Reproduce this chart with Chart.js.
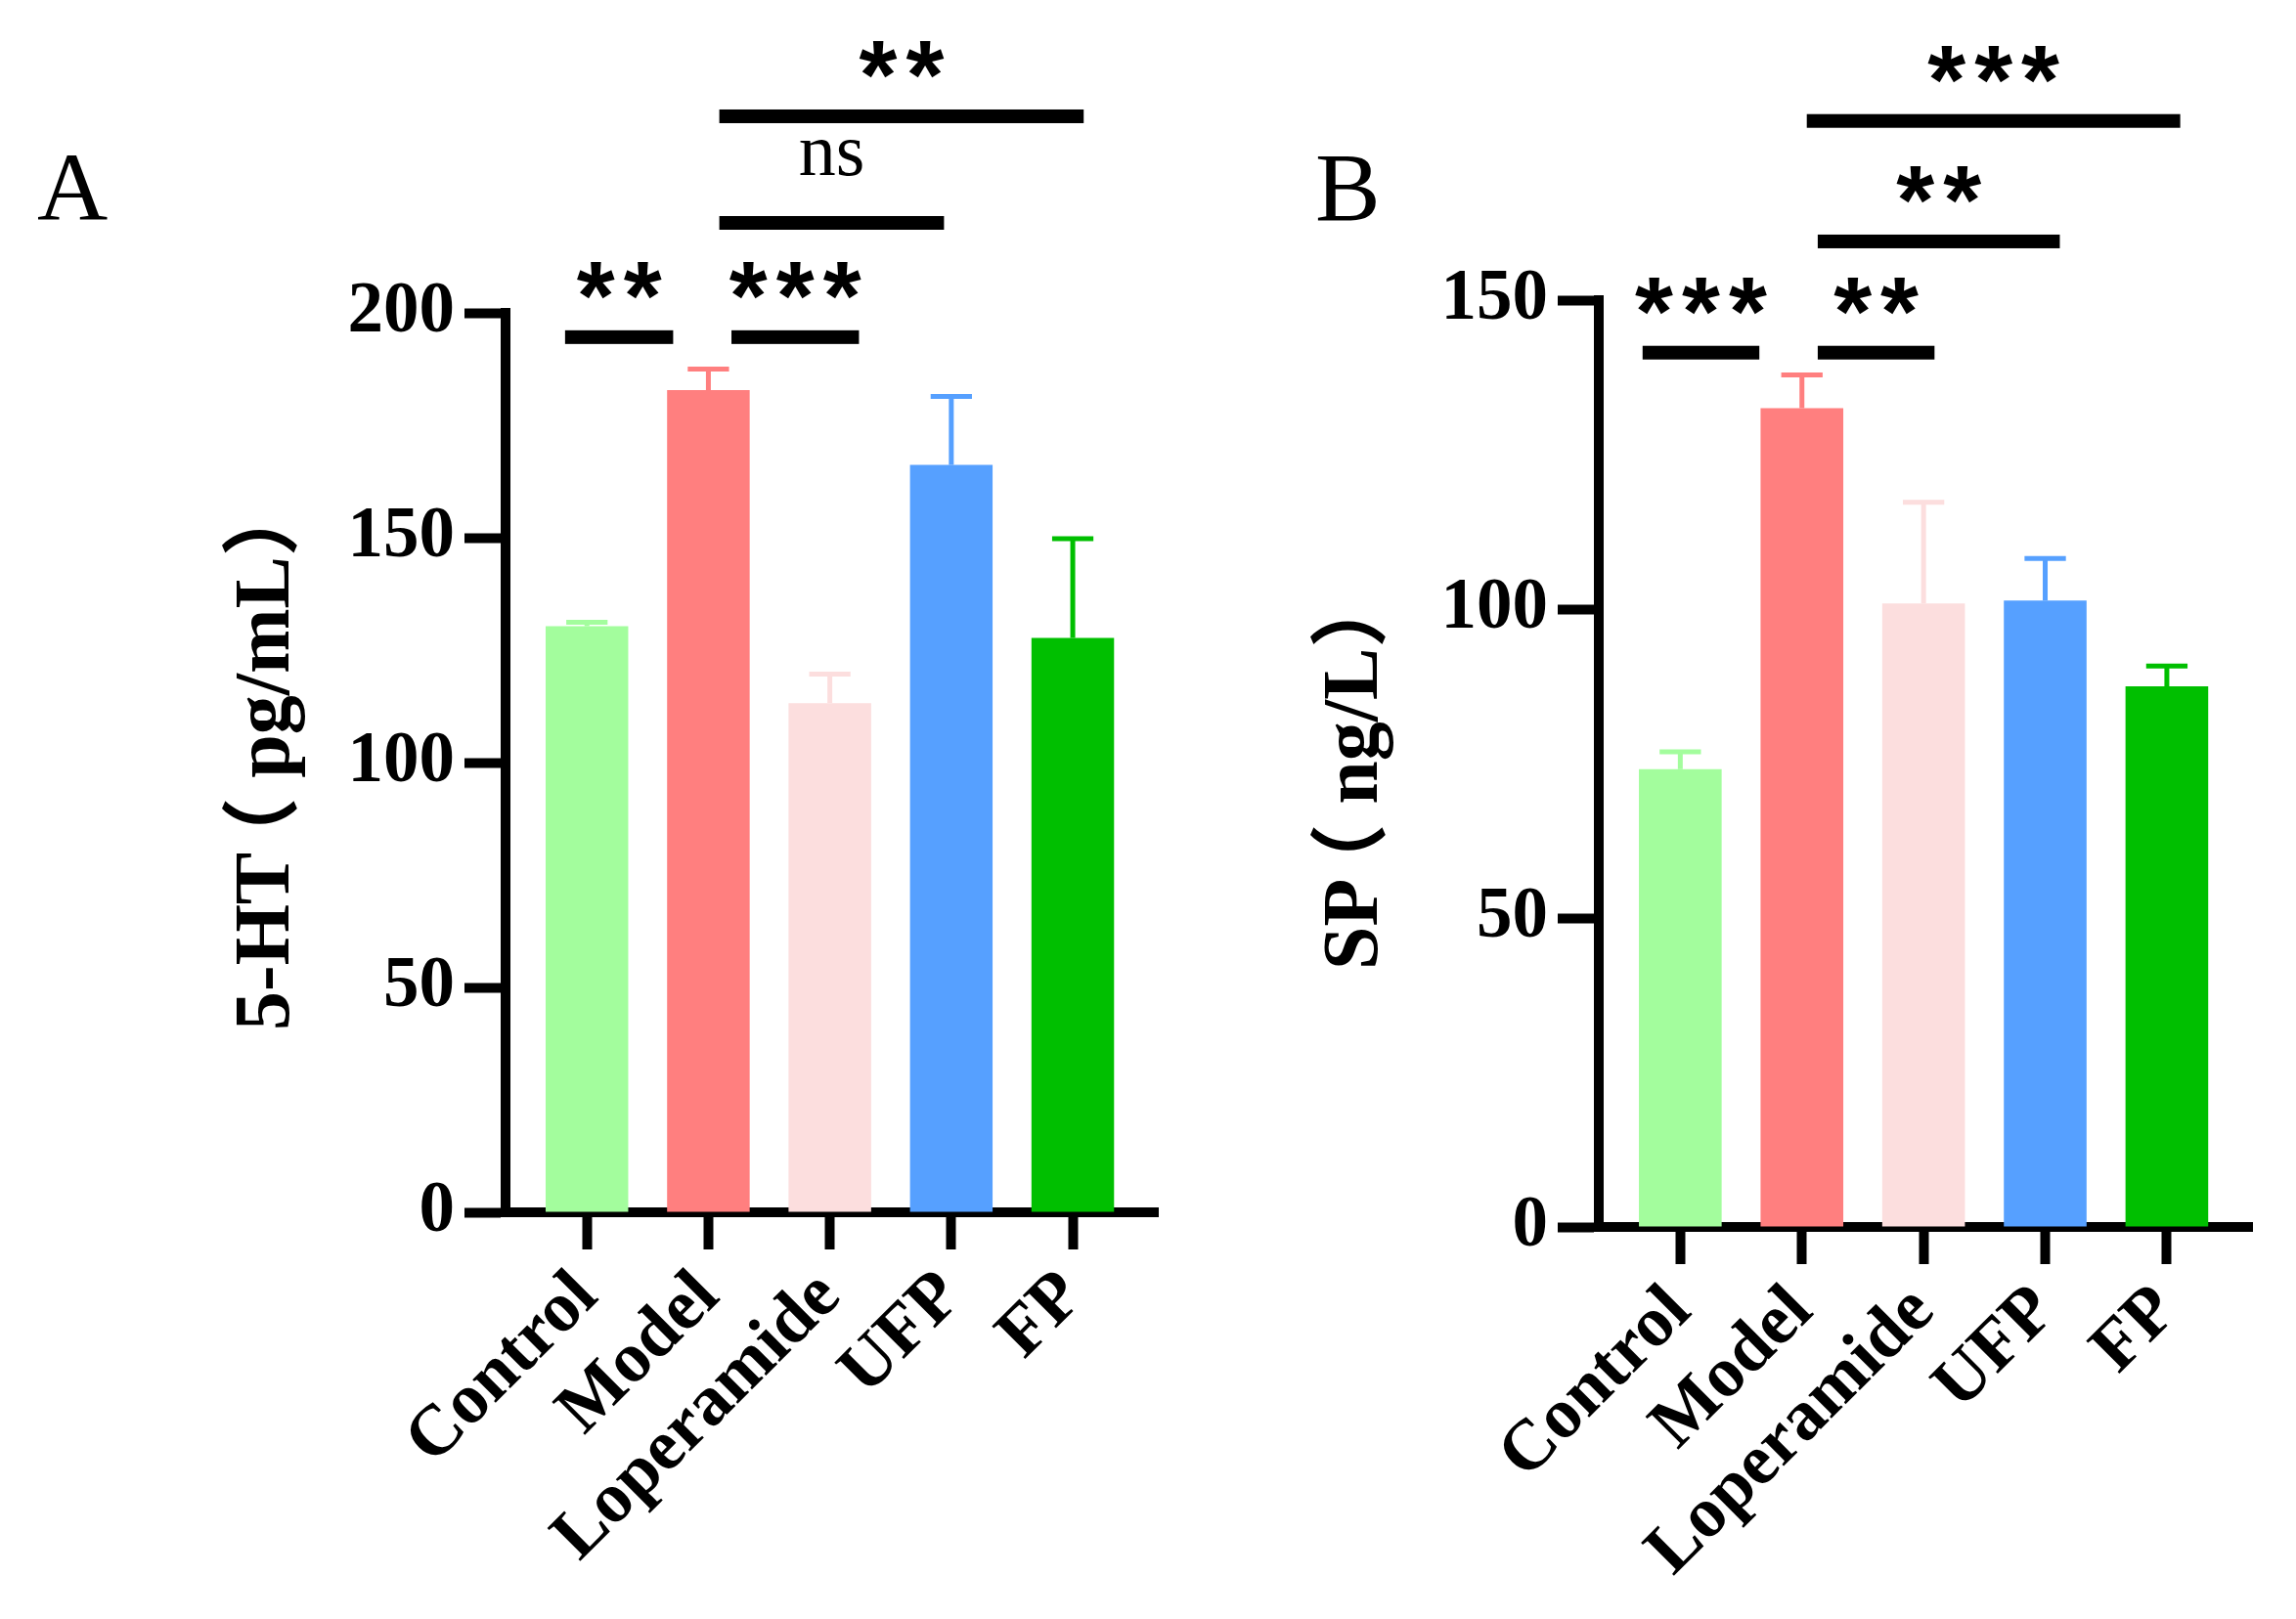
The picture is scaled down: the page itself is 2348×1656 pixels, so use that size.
<!DOCTYPE html>
<html>
<head>
<meta charset="utf-8">
<script src="https://cdn.jsdelivr.net/npm/chart.js@4.4.1/dist/chart.umd.min.js"></script>
<style>
  html, body { margin: 0; padding: 0; background: #fff; }
  #wrap { position: relative; width: 2348px; height: 1656px; }
  canvas { position: absolute; top: 0; }
  #chartA { left: 0; }
  #chartB { left: 1200px; }
</style>
</head>
<body>
<div id="wrap">
  <canvas id="chartA" width="1200" height="1656"></canvas>
  <canvas id="chartB" width="1148" height="1656"></canvas>
</div>
<script>
// ── données ─────────────────────────────────────────────
const groups = ['Control', 'Model', 'Loperamide', 'UFP', 'FP'];
const barColors = ['#a3fd9d', '#ff7f7f', '#fcdede', '#56a0ff', '#00bf00'];

// 5-HT (pg/mL) : moyenne + erreur (barre supérieure)
const htMeans  = [130.3, 182.8, 113.2, 166.2, 127.7];
const htErrors = [0.9, 4.7, 6.5, 15.2, 22.1];
const htTicks  = [0, 50, 100, 150, 200];

// SP (ng/L)
const spMeans  = [74.1, 132.5, 100.9, 101.4, 87.5];
const spErrors = [2.8, 5.4, 16.4, 6.8, 3.3];
const spTicks  = [0, 50, 100, 150];

// comparaisons : [label, groupe début, groupe fin, niveau]
const htSig = [
  ['**',  -0.18, 0.71, 194.6],
  ['***',  1.19, 2.24, 194.6],
  ['ns',   1.09, 2.94, 220.0],
  ['**',   1.09, 4.09, 243.7],
];
const spSig = [
  ['***', -0.31, 0.65, 141.5],
  ['**',   1.13, 2.09, 141.5],
  ['**',   1.13, 3.12, 159.5],
  ['***',  1.04, 4.11, 179.0],
];

Chart.defaults.color = '#000';
const SERIF = "'Liberation Serif', 'Times New Roman', 'Noto Sans CJK SC', serif";

// ── plugins ─────────────────────────────────────────────
const errorBars = {
  id: 'errorBars',
  afterDatasetsDraw(chart, args, opts) {
    const { ctx, scales: { y } } = chart;
    const meta = chart.getDatasetMeta(0);
    meta.data.forEach((bar, i) => {
      const base = y.getPixelForValue(opts.means[i]);
      const top = y.getPixelForValue(opts.means[i] + opts.errors[i]);
      const half = bar.width * 0.25;
      ctx.save();
      ctx.strokeStyle = barColors[i];
      ctx.lineWidth = 5;
      ctx.beginPath();
      ctx.moveTo(bar.x, base);
      ctx.lineTo(bar.x, top);
      ctx.moveTo(bar.x - half, top);
      ctx.lineTo(bar.x + half, top);
      ctx.stroke();
      ctx.restore();
    });
  }
};

const sigBars = {
  id: 'sigBars',
  afterDraw(chart, args, opts) {
    const { ctx, scales: { x, y } } = chart;
    opts.items.forEach(([label, from, to, level]) => {
      const x1 = x.getPixelForValue(from);
      const x2 = x.getPixelForValue(to);
      const py = y.getPixelForValue(level);
      const cx = (x1 + x2) / 2;
      ctx.save();
      ctx.fillStyle = '#000';
      ctx.fillRect(x1, py - 7, x2 - x1, 14);
      ctx.textAlign = 'center';
      if (label === 'ns') {
        ctx.font = '76px ' + SERIF;
        ctx.textBaseline = 'alphabetic';
        ctx.fillText(label, cx, py - 49);
      } else {
        ctx.font = "bold 100px 'Liberation Sans', Arial, sans-serif";
        ctx.letterSpacing = '9px';
        const m = ctx.measureText('*');
        const mid = (m.actualBoundingBoxAscent - m.actualBoundingBoxDescent) / 2;
        ctx.textBaseline = 'alphabetic';
        ctx.fillText(label, cx + 4.5, py - 58 + mid);
      }
      ctx.restore();
    });
  }
};

// lettre du panneau + titre vertical de l'axe y
const panelText = {
  id: 'panelText',
  afterDraw(chart, args, opts) {
    const { ctx } = chart;
    ctx.save();
    ctx.fillStyle = '#000';
    ctx.font = '100px ' + SERIF;
    ctx.textAlign = 'left';
    ctx.textBaseline = 'alphabetic';
    ctx.fillText(opts.letter, opts.letterX, 225);

    ctx.translate(opts.titleX, opts.titleY);
    ctx.rotate(-Math.PI / 2);
    ctx.font = 'bold 80px ' + SERIF;
    ctx.textBaseline = 'middle';
    // la parenthèse pleine chasse est rapprochée du texte qui la précède
    const cut = opts.title.indexOf('（');
    const head = opts.title.slice(0, cut);
    ctx.fillText(head, 0, 0);
    ctx.fillText(opts.title.slice(cut), ctx.measureText(head).width - 24, 0);
    ctx.restore();
  }
};

// ── construction ────────────────────────────────────────
function buildPanel(id, p) {
  new Chart(document.getElementById(id), {
    type: 'bar',
    data: {
      datasets: [{
        data: p.means.map((v, i) => ({ x: i, y: v })),
        backgroundColor: barColors,
        borderWidth: 0,
        categoryPercentage: 1,
        barPercentage: 0.68,
      }],
    },
    options: {
      responsive: false,
      animation: false,
      devicePixelRatio: 1,
      layout: { padding: { top: p.top, left: 0, right: p.right, bottom: 0 } },
      plugins: {
        legend: { display: false },
        tooltip: { enabled: false },
        errorBars: { means: p.means, errors: p.errors },
        sigBars: { items: p.sig },
        panelText: {
          letter: p.letter, letterX: p.letterX,
          title: p.title, titleX: p.titleX, titleY: p.titleY,
        },
      },
      scales: {
        x: {
          type: 'linear',
          min: -0.67,
          max: 4.7,
          offset: false,
          afterBuildTicks: axis => { axis.ticks = groups.map((g, i) => ({ value: i })); },
          afterFit: scale => { scale.height = p.xHeight; },
          ticks: {
            autoSkip: false,
            minRotation: 45,
            maxRotation: 45,
            padding: 6,
            callback: (v, i) => groups[i],
            font: { family: SERIF, size: 73, weight: 'bold' },
          },
          grid: {
            offset: false,
            drawOnChartArea: false,
            drawTicks: true,
            tickLength: 38,
            tickWidth: 10,
            tickColor: '#000',
          },
          border: { display: true, color: '#000', width: 10 },
        },
        y: {
          min: 0,
          max: p.ticks[p.ticks.length - 1],
          afterBuildTicks: axis => { axis.ticks = p.ticks.map(v => ({ value: v })); },
          afterFit: scale => { scale.width = p.yWidth; },
          ticks: {
            padding: 10,
            font: { family: SERIF, size: 73, weight: 'bold' },
          },
          grid: {
            drawOnChartArea: false,
            drawTicks: true,
            tickLength: 42,
            tickWidth: 10,
            tickColor: '#000',
          },
          border: { display: true, color: '#000', width: 10 },
          title: { display: false },
        },
      },
    },
    plugins: [errorBars, sigBars, panelText],
  });
}

buildPanel('chartA', {
  means: htMeans, errors: htErrors, ticks: htTicks, sig: htSig,
  title: '5-HT（ pg/mL）', letter: 'A', letterX: 38, titleX: 274, titleY: 1054,
  top: 320, right: 16, yWidth: 517, xHeight: 416,
});

buildPanel('chartB', {
  means: spMeans, errors: spErrors, ticks: spTicks, sig: spSig,
  title: 'SP（ ng/L）', letter: 'B', letterX: 145, titleX: 187, titleY: 992,
  top: 307, right: 45, yWidth: 435, xHeight: 401,
});
</script>
</body>
</html>
